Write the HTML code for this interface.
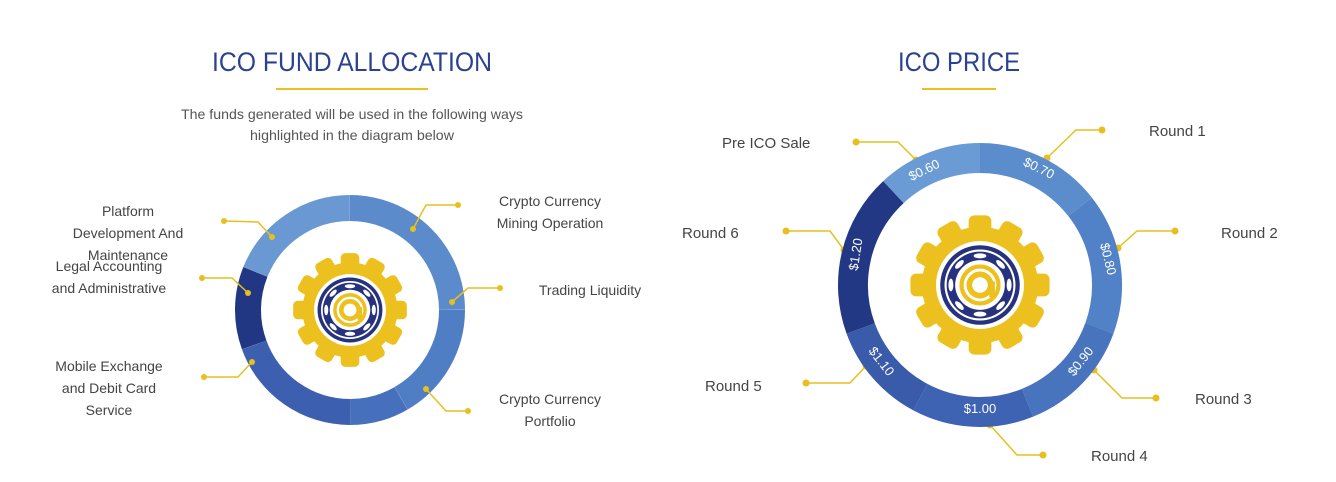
<!DOCTYPE html>
<html><head><meta charset="utf-8"><style>
html,body{margin:0;padding:0;background:#fff;}
svg{display:block}
text{font-family:"Liberation Sans",sans-serif;}
</style></head><body>
<svg width="1336" height="482" viewBox="0 0 1336 482" xmlns="http://www.w3.org/2000/svg">
<defs>
<g id="gear">
  <g fill="#ecc11f">
    <circle r="0.82"/>
    <g id="t2"><rect x="-0.16" y="-0.98" width="0.32" height="0.3" rx="0.08"/><rect x="-0.16" y="0.68" width="0.32" height="0.3" rx="0.08"/></g>
    <use href="#t2" transform="rotate(30)"/><use href="#t2" transform="rotate(60)"/><use href="#t2" transform="rotate(90)"/><use href="#t2" transform="rotate(120)"/><use href="#t2" transform="rotate(150)"/>
  </g>
  <circle r="0.62" fill="#fff"/>
  <circle r="0.56" fill="#27327f"/>
  <circle r="0.5" fill="#fff"/>
  <circle r="0.47" fill="#27327f"/>
  <g fill="#fff">
    <ellipse cx="0" cy="-0.41" rx="0.09" ry="0.035"/><ellipse cx="0" cy="0.41" rx="0.09" ry="0.035"/>
    <ellipse cx="0.41" cy="0" rx="0.035" ry="0.09"/><ellipse cx="-0.41" cy="0" rx="0.035" ry="0.09"/>
    <ellipse cx="0.29" cy="-0.29" rx="0.08" ry="0.035" transform="rotate(45 0.29 -0.29)"/><ellipse cx="-0.29" cy="0.29" rx="0.08" ry="0.035" transform="rotate(45 -0.29 0.29)"/>
    <ellipse cx="-0.29" cy="-0.29" rx="0.08" ry="0.035" transform="rotate(-45 -0.29 -0.29)"/><ellipse cx="0.29" cy="0.29" rx="0.08" ry="0.035" transform="rotate(-45 0.29 0.29)"/>
  </g>
  <circle r="0.35" fill="#fff"/>
  <circle r="0.26" fill="none" stroke="#ecc11f" stroke-width="0.06"/>
  <circle r="0.15" fill="none" stroke="#ecc11f" stroke-width="0.08"/>
  <rect x="0.13" y="-0.05" width="0.08" height="0.22" fill="#ecc11f"/>
</g>
</defs>

<text x="352" y="71" font-size="27" fill="#2a4290" text-anchor="middle" textLength="280" lengthAdjust="spacingAndGlyphs">ICO FUND ALLOCATION</text>
<rect x="276" y="88" width="152" height="2" fill="#ecc11f"/>
<text x="352" y="119" font-size="14" fill="#555" text-anchor="middle" textLength="342" lengthAdjust="spacingAndGlyphs">The funds generated will be used in the following ways</text>
<text x="352" y="140" font-size="14" fill="#555" text-anchor="middle" textLength="204" lengthAdjust="spacingAndGlyphs">highlighted in the diagram below</text>

<g fill="none" stroke-width="26">
  <circle cx="350" cy="310" r="102" pathLength="360" stroke="#6a98d2" stroke-dasharray="68 360" transform="rotate(202 350 310)"/>
  <circle cx="350" cy="310" r="102" pathLength="360" stroke="#5b8bcb" stroke-dasharray="90 360" transform="rotate(-90 350 310)"/>
  <circle cx="350" cy="310" r="102" pathLength="360" stroke="#4f7ec4" stroke-dasharray="60 360" transform="rotate(0 350 310)"/>
  <circle cx="350" cy="310" r="102" pathLength="360" stroke="#4670bb" stroke-dasharray="30 360" transform="rotate(60 350 310)"/>
  <circle cx="350" cy="310" r="102" pathLength="360" stroke="#3d5fb0" stroke-dasharray="70 360" transform="rotate(90 350 310)"/>
  <circle cx="350" cy="310" r="102" pathLength="360" stroke="#213783" stroke-dasharray="42 360" transform="rotate(160 350 310)"/>
</g>
<use href="#gear" transform="translate(350 310) scale(58)"/>

<g stroke="#e8bf1e" stroke-width="1.5" fill="none">
  <polyline points="224,221 258,222 272,237"/>
  <polyline points="202,278 232,278 248,293"/>
  <polyline points="204,377 238,377 252,362"/>
  <polyline points="458,205 426,205 413,229"/>
  <polyline points="500,288 468,288 452,302"/>
  <polyline points="468,411 446,411 426,389"/>
  <polyline points="856,142 898,142 916,160"/>
  <polyline points="1102,130 1076,130 1047,158"/>
  <polyline points="1175,231 1137,231 1118,248"/>
  <polyline points="786,231 830,231 844,250"/>
  <polyline points="806,383 850,383 866,366"/>
  <polyline points="1156,398 1122,398 1094,370"/>
  <polyline points="1043,455 1017,455 990,425"/>
</g>
<g fill="#e8bf1e">
  <circle cx="224" cy="221" r="3"/><circle cx="272" cy="237" r="3"/>
  <circle cx="202" cy="278" r="3"/><circle cx="248" cy="293" r="3"/>
  <circle cx="204" cy="377" r="3"/><circle cx="252" cy="362" r="3"/>
  <circle cx="458" cy="205" r="3"/><circle cx="413" cy="229" r="3"/>
  <circle cx="500" cy="288" r="3"/><circle cx="452" cy="302" r="3"/>
  <circle cx="468" cy="411" r="3"/><circle cx="426" cy="389" r="3"/>
  <circle cx="856" cy="142" r="3.5"/><circle cx="916" cy="160" r="3.5"/>
  <circle cx="1102" cy="130" r="3.5"/><circle cx="1047" cy="158" r="3.5"/>
  <circle cx="1175" cy="231" r="3.5"/><circle cx="1118" cy="248" r="3.5"/>
  <circle cx="786" cy="231" r="3.5"/><circle cx="844" cy="250" r="3.5"/>
  <circle cx="806" cy="383" r="3.5"/><circle cx="866" cy="366" r="3.5"/>
  <circle cx="1156" cy="398" r="3.5"/><circle cx="1094" cy="370" r="3.5"/>
  <circle cx="1043" cy="455" r="3.5"/><circle cx="990" cy="425" r="3.5"/>
</g>

<g font-size="14" fill="#444" text-anchor="middle">
  <text x="128" y="216">Platform</text>
  <text x="128" y="238">Development And</text>
  <text x="128" y="260">Maintenance</text>
  <text x="109" y="271">Legal Accounting</text>
  <text x="109" y="293">and Administrative</text>
  <text x="109" y="371">Mobile Exchange</text>
  <text x="109" y="393">and Debit Card</text>
  <text x="109" y="415">Service</text>
  <text x="550" y="206">Crypto Currency</text>
  <text x="550" y="228">Mining Operation</text>
  <text x="590" y="295">Trading Liquidity</text>
  <text x="550" y="404">Crypto Currency</text>
  <text x="550" y="426">Portfolio</text>
</g>

<text x="959" y="71" font-size="27" fill="#2a4290" text-anchor="middle" textLength="122" lengthAdjust="spacingAndGlyphs">ICO PRICE</text>
<rect x="922" y="88" width="74" height="2" fill="#ecc11f"/>

<g fill="none" stroke-width="30">
  <circle cx="980" cy="285" r="127" pathLength="360" stroke="#6b9bd4" stroke-dasharray="43 360" transform="rotate(227 980 285)"/>
  <circle cx="980" cy="285" r="127" pathLength="360" stroke="#5b8dcc" stroke-dasharray="52 360" transform="rotate(-90 980 285)"/>
  <circle cx="980" cy="285" r="127" pathLength="360" stroke="#5181c6" stroke-dasharray="58 360" transform="rotate(-38 980 285)"/>
  <circle cx="980" cy="285" r="127" pathLength="360" stroke="#4873bd" stroke-dasharray="48 360" transform="rotate(20 980 285)"/>
  <circle cx="980" cy="285" r="127" pathLength="360" stroke="#3f63b3" stroke-dasharray="50 360" transform="rotate(68 980 285)"/>
  <circle cx="980" cy="285" r="127" pathLength="360" stroke="#3a5aaa" stroke-dasharray="42 360" transform="rotate(118 980 285)"/>
  <circle cx="980" cy="285" r="127" pathLength="360" stroke="#223884" stroke-dasharray="67 360" transform="rotate(160 980 285)"/>
</g>
<use href="#gear" transform="translate(980 285) scale(71)"/>

<g font-size="13" fill="#fff" text-anchor="middle">
  <text transform="translate(926 174) rotate(-26)">$0.60</text>
  <text transform="translate(1037 172) rotate(26)">$0.70</text>
  <text transform="translate(1100 261) rotate(76)" dy="-4">$0.80</text>
  <text transform="translate(1084 364) rotate(-52)">$0.90</text>
  <text x="980" y="413">$1.00</text>
  <text transform="translate(878 364) rotate(52)">$1.10</text>
  <text transform="translate(860 255) rotate(-81)">$1.20</text>
</g>

<g font-size="15" fill="#444">
  <text x="722" y="148">Pre ICO Sale</text>
  <text x="1149" y="136">Round 1</text>
  <text x="1221" y="238">Round 2</text>
  <text x="682" y="238">Round 6</text>
  <text x="705" y="391">Round 5</text>
  <text x="1195" y="404">Round 3</text>
  <text x="1091" y="461">Round 4</text>
</g>
</svg>
</body></html>
